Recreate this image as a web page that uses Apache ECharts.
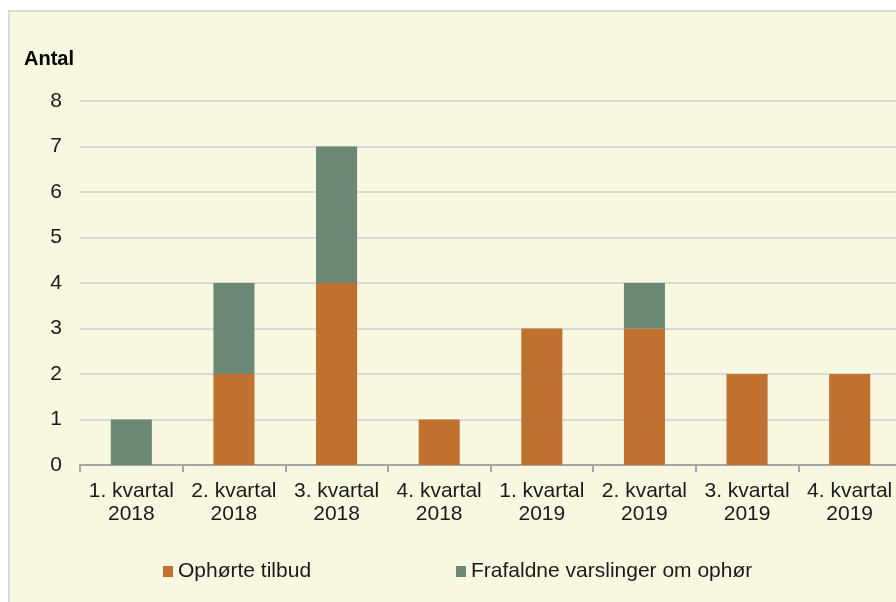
<!DOCTYPE html>
<html>
<head>
<meta charset="utf-8">
<script src="https://cdn.jsdelivr.net/npm/echarts@6/dist/echarts.min.js"></script>
<style>
  html, body { margin: 0; padding: 0; background: #fff; overflow: hidden; width: 896px; height: 602px; }
  .frame { position: absolute; left: 8px; top: 10px; width: 940px; height: 640px;
           background: #f8f7e0; border-left: 2px solid #d9d9d9; border-top: 2px solid #d9d9d9; box-sizing: border-box; }
  #chart { position: absolute; left: 0; top: 0; width: 920px; height: 602px; }
</style>
</head>
<body>
<div class="frame"></div>
<div id="chart"></div>
<script>
const categories = ['1. kvartal\n2018', '2. kvartal\n2018', '3. kvartal\n2018', '4. kvartal\n2018',
                    '1. kvartal\n2019', '2. kvartal\n2019', '3. kvartal\n2019', '4. kvartal\n2019']
const ophorteTilbud = [0, 2, 4, 1, 3, 3, 2, 2]
const frafaldneVarslinger = [1, 2, 3, 0, 0, 1, 0, 0]

const font = '"Liberation Sans", Arial, sans-serif'
const chart = echarts.init(document.getElementById('chart'))

chart.setOption({
  backgroundColor: 'transparent',
  animation: false,
  title: {
    text: 'Antal',
    left: 24,
    top: 49,
    padding: 0,
    textStyle: { fontFamily: font, fontSize: 20, fontWeight: 'bold', color: '#000' },
  },
  legend: [
    {
      left: 163,
      top: 561,
      padding: 0,
      data: ['Ophørte tilbud'],
      icon: 'rect',
      itemWidth: 10,
      itemHeight: 11,
      textStyle: { fontFamily: font, fontSize: 21, color: '#1a1a1a' },
    },
    {
      left: 456,
      top: 561,
      padding: 0,
      data: ['Frafaldne varslinger om ophør'],
      icon: 'rect',
      itemWidth: 10,
      itemHeight: 11,
      textStyle: { fontFamily: font, fontSize: 21, color: '#1a1a1a' },
    },
  ],
  grid: { left: 80, right: 19, top: 101, bottom: 137 },
  xAxis: {
    type: 'category',
    data: categories,
    axisLine: { lineStyle: { color: '#a6a6a6', width: 2 } },
    axisTick: { show: true, length: 7, lineStyle: { color: '#a6a6a6', width: 2 } },
    axisLabel: { fontFamily: font, fontSize: 21, lineHeight: 23, color: '#1a1a1a', margin: 15, interval: 0 },
  },
  yAxis: {
    type: 'value',
    min: 0,
    max: 8,
    interval: 1,
    axisLine: { show: false },
    axisTick: { show: false },
    splitLine: { lineStyle: { color: '#d9d9d9', width: 2 } },
    axisLabel: { fontFamily: font, fontSize: 21, color: '#1a1a1a', margin: 18 },
  },
  series: [
    {
      name: 'Ophørte tilbud',
      type: 'bar',
      stack: 'total',
      data: ophorteTilbud,
      barWidth: '40%',
      itemStyle: { color: '#c0702f' },
    },
    {
      name: 'Frafaldne varslinger om ophør',
      type: 'bar',
      stack: 'total',
      data: frafaldneVarslinger,
      barWidth: '40%',
      itemStyle: { color: '#6b8877' },
    },
  ],
})
</script>
</body>
</html>
